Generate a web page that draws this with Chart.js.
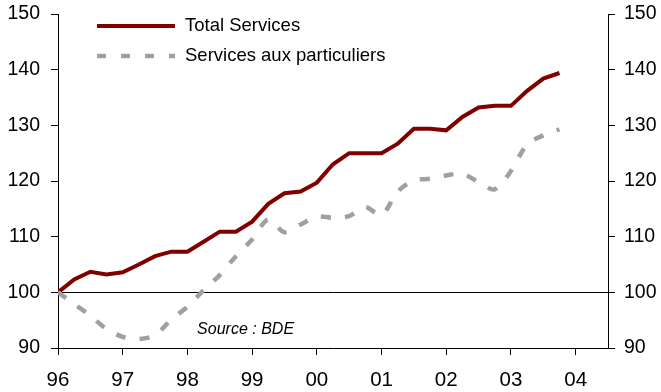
<!DOCTYPE html>
<html>
<head>
<meta charset="utf-8">
<script src="https://cdn.jsdelivr.net/npm/chart.js@4.4.1/dist/chart.umd.min.js"></script>
<style>
  html, body { margin: 0; padding: 0; background: #fff; }
  #wrap { width: 661px; height: 392px; position: relative; }
</style>
</head>
<body>
<div id="wrap"><canvas id="servicesChart"></canvas></div>
<script>
// trimestres, 1996 T1 -> 2003 T4
const quarters = [
  "1996T1", "1996T2", "1996T3", "1996T4",
  "1997T1", "1997T2", "1997T3", "1997T4",
  "1998T1", "1998T2", "1998T3", "1998T4",
  "1999T1", "1999T2", "1999T3", "1999T4",
  "2000T1", "2000T2", "2000T3", "2000T4",
  "2001T1", "2001T2", "2001T3", "2001T4",
  "2002T1", "2002T2", "2002T3", "2002T4",
  "2003T1", "2003T2", "2003T3", "2003T4",
];

const totalServices = [
  100.0, 102.3, 103.7, 103.2, 103.6, 105.0, 106.5, 107.3,
  107.3, 109.1, 110.9, 110.9, 112.7, 115.9, 117.8, 118.1,
  119.7, 123.0, 125.0, 125.0, 125.0, 126.7, 129.4, 129.4,
  129.1, 131.5, 133.2, 133.5, 133.5, 136.2, 138.4, 139.4,
];

const servicesParticuliers = [
  100.0, 97.9, 95.8, 93.4, 92.0, 91.6, 92.3, 95.1,
  97.4, 100.4, 103.1, 106.5, 109.5, 113.1, 110.8, 112.2,
  113.6, 113.4, 113.7, 115.3, 113.9, 118.1, 120.1, 120.4,
  121.0, 121.3, 119.8, 118.5, 121.8, 126.6, 128.2, 129.3,
];

const yearLabels = ["96", "97", "98", "99", "00", "01", "02", "03", "04"];
const yTicks = [90, 100, 110, 120, 130, 140, 150];

const seriesNames = ["Total Services", "Services aux particuliers"];
const sourceText = "Source : BDE";

const RED = "#800000";
const GREY = "#a0a0a0";
const FONT = "'Liberation Sans', Arial, Helvetica, sans-serif";

// position on the time axis, in years since 1996
function quarterToX(q) {
  const year = parseInt(q.slice(0, 4), 10);
  const n = parseInt(q.slice(5), 10);
  return year - 1996 + (n - 1) / 4;
}

function toPoints(values) {
  return values.map((v, i) => ({ x: quarterToX(quarters[i]), y: v }));
}

// fixed axis widths, no extra room for the end labels
function fitVertical(width) {
  return (scale) => {
    scale.width = width;
    scale.paddingTop = 0;
    scale.paddingBottom = 0;
  };
}

// legend inside the plot + source note
const overlayPlugin = {
  id: "overlay",
  afterDatasetsDraw(chart) {
    const ctx = chart.ctx;
    const area = chart.chartArea;
    const xs = chart.scales.x;
    const ys = chart.scales.y;
    ctx.save();

    const x0 = area.left + 39;
    const x1 = area.left + 117;
    const rows = [area.top + 12, area.top + 42];

    ctx.lineCap = "butt";
    ctx.strokeStyle = RED;
    ctx.lineWidth = 4;
    ctx.beginPath();
    ctx.moveTo(x0, rows[0]);
    ctx.lineTo(x1, rows[0]);
    ctx.stroke();

    ctx.strokeStyle = GREY;
    ctx.lineWidth = 4.5;
    ctx.setLineDash([9, 15]);
    ctx.beginPath();
    ctx.moveTo(x0, rows[1]);
    ctx.lineTo(x1, rows[1]);
    ctx.stroke();
    ctx.setLineDash([]);

    ctx.fillStyle = "#000";
    ctx.font = "18.5px " + FONT;
    ctx.textAlign = "left";
    ctx.textBaseline = "middle";
    ctx.fillText(seriesNames[0], x1 + 10, rows[0]);
    ctx.fillText(seriesNames[1], x1 + 10, rows[1]);

    ctx.font = "italic 16px " + FONT;
    ctx.fillText(sourceText, xs.getPixelForValue(2.15), ys.getPixelForValue(93.3));
    ctx.restore();
  },
};

const tickFont = { family: FONT, size: 19.5 };

new Chart(document.getElementById("servicesChart"), {
  type: "line",
  data: {
    datasets: [
      {
        label: seriesNames[1],
        data: toPoints(servicesParticuliers),
        borderColor: GREY,
        borderWidth: 4.5,
        borderDash: [10, 14],
        borderCapStyle: "butt",
        tension: 0.3,
        pointRadius: 0,
        yAxisID: "y",
      },
      {
        label: seriesNames[0],
        data: toPoints(totalServices),
        borderColor: RED,
        borderWidth: 4,
        tension: 0,
        pointRadius: 0,
        yAxisID: "y",
      },
    ],
  },
  options: {
    responsive: true,
    maintainAspectRatio: false,
    animation: false,
    layout: { padding: { top: 14, left: 0, right: 0, bottom: 0 } },
    plugins: {
      legend: { display: false },
      tooltip: { enabled: false },
    },
    scales: {
      x: {
        type: "linear",
        min: 0,
        max: 8.5,
        afterFit: (scale) => { scale.height = 44; },
        border: { display: true, color: "#000", width: 1 },
        grid: { drawOnChartArea: false, drawTicks: true, tickLength: 7, color: "#000" },
        ticks: {
          stepSize: 1,
          includeBounds: false,
          padding: 13,
          color: "#000",
          font: { family: FONT, size: 20.5 },
          maxRotation: 0,
          callback: (v) => yearLabels[v] ?? "",
        },
      },
      y: {
        position: "left",
        min: yTicks[0],
        max: yTicks[yTicks.length - 1],
        afterFit: fitVertical(58),
        border: { display: true, color: "#000", width: 1 },
        grid: {
          color: (c) => (c.tick && c.tick.value === 100 ? "#000" : "rgba(0,0,0,0)"),
          lineWidth: 1,
          drawTicks: true,
          tickLength: 7,
          tickColor: "#000",
        },
        ticks: { stepSize: 10, padding: 11, color: "#000", font: tickFont },
      },
      y2: {
        position: "right",
        min: yTicks[0],
        max: yTicks[yTicks.length - 1],
        afterFit: fitVertical(53),
        border: { display: true, color: "#000", width: 1 },
        grid: { drawOnChartArea: false, drawTicks: true, tickLength: 7, color: "#000" },
        ticks: { stepSize: 10, padding: 9, color: "#000", font: tickFont },
      },
    },
  },
  plugins: [overlayPlugin],
});
</script>
</body>
</html>
